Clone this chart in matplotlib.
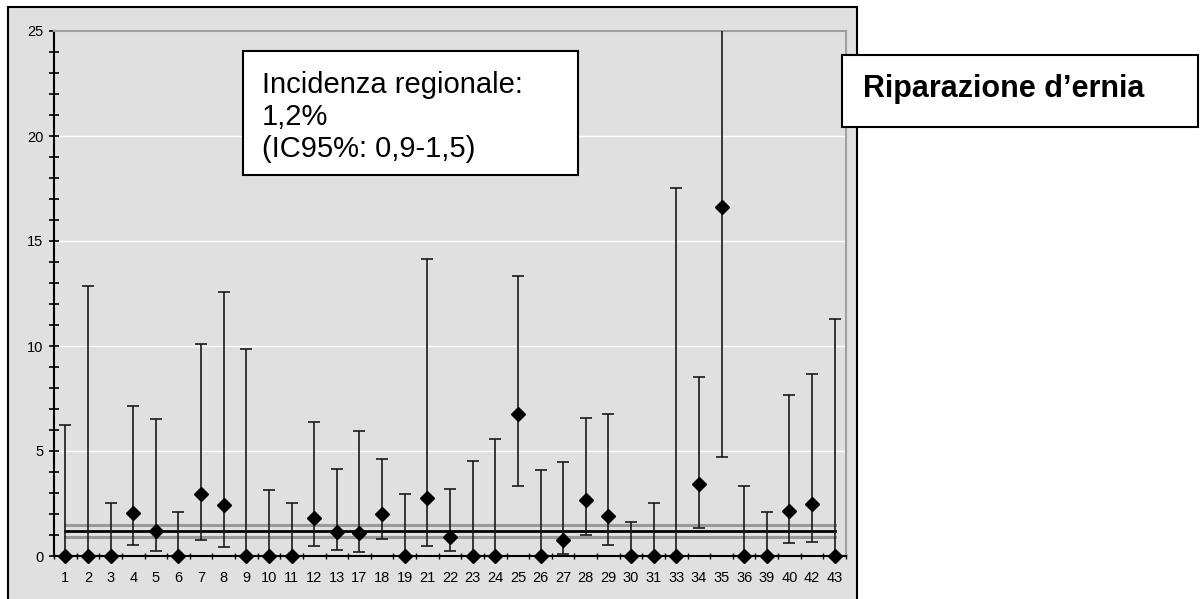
import matplotlib
matplotlib.use("Agg")
import matplotlib.pyplot as plt
from matplotlib.patches import Rectangle
from matplotlib.ticker import MultipleLocator, FixedLocator

plt.rcParams['font.family'] = ['Liberation Sans', 'DejaVu Sans']

# ---- data ----
categories = ["1", "2", "3", "4", "5", "6", "7", "8", "9", "10", "11", "12", "13",
              "17", "18", "19", "21", "22", "23", "24", "25", "26", "27", "28", "29",
              "30", "31", "33", "34", "35", "36", "39", "40", "42", "43"]
estimate = [0, 0, 0, 2.05, 1.19, 0, 2.95, 2.41, 0, 0, 0, 1.81, 1.13,
            1.08, 1.98, 0, 2.78, 0.90, 0, 0, 6.76, 0, 0.78, 2.65, 1.92,
            0, 0, 0, 3.43, 16.62, 0, 0, 2.16, 2.48, 0]
ci_low = [0, 0, 0, 0.54, 0.24, 0, 0.76, 0.43, 0, 0, 0, 0.49, 0.30,
          0.17, 0.83, 0, 0.49, 0.24, 0, 0, 3.32, 0, 0.11, 1.02, 0.54,
          0, 0, 0, 1.33, 4.70, 0, 0, 0.60, 0.65, 0]
ci_high = [6.24, 12.86, 2.54, 7.14, 6.54, 2.11, 10.10, 12.57, 9.86, 3.16, 2.54, 6.40, 4.16,
           5.97, 4.63, 2.95, 14.14, 3.21, 4.54, 5.56, 13.35, 4.11, 4.48, 6.57, 6.76,
           1.62, 2.54, 17.54, 8.52, 30.0, 3.32, 2.11, 7.67, 8.65, 11.30]
regional_rate = 1.2
regional_low = 0.9
regional_high = 1.5
title_text = "Riparazione d\u2019ernia"
box_lines = ["Incidenza regionale:", "1,2%", "(IC95%: 0,9-1,5)"]

W, H = 1200, 599
fig = plt.figure(figsize=(12, 5.99), dpi=100)

def fx(px):
    return px / W

def fy(py):
    return 1 - py / H

# outer chart area (bottom edge lies just outside the image)
fig.add_artist(Rectangle((fx(8), fy(603)), fx(857) - fx(8), fy(7) - fy(603),
                         transform=fig.transFigure, facecolor='#e0e0e0',
                         edgecolor='black', linewidth=1.5, zorder=-5))

ax = fig.add_axes([fx(54), fy(556), fx(846) - fx(54), fy(31) - fy(556)])
ax.set_facecolor('#e0e0e0')

n = len(categories)
x = list(range(n))

ax.set_xlim(-0.5, n - 0.5)
ax.set_ylim(0, 25)

# grid
for gv in [5, 10, 15, 20]:
    ax.axhline(gv, color='white', linewidth=1.0, zorder=1)

# regional reference lines
ax.plot([x[0], x[-1]], [regional_high] * 2, color='#999999', linewidth=2.2, zorder=2)
ax.plot([x[0], x[-1]], [regional_low] * 2, color='#999999', linewidth=2.2, zorder=2)
ax.plot([x[0], x[-1]], [regional_rate] * 2, color='black', linewidth=2.0, zorder=2)

# error bars
yerr = [[e - l for e, l in zip(estimate, ci_low)],
        [h - e for e, h in zip(estimate, ci_high)]]
ax.errorbar(x, estimate, yerr=yerr, fmt='none', ecolor='#1a1a1a',
            elinewidth=1.2, capsize=4, capthick=1.2, zorder=3)
ax.plot(x, estimate, linestyle='none', marker='D', markersize=7,
        color='black', zorder=4, clip_on=False)

# spines
for s in ['left', 'bottom']:
    ax.spines[s].set_color('black')
    ax.spines[s].set_linewidth(1.5)
for s in ['top', 'right']:
    ax.spines[s].set_color('#a0a0a0')
    ax.spines[s].set_linewidth(1.5)

# ticks
ax.yaxis.set_major_locator(MultipleLocator(5))
ax.yaxis.set_minor_locator(MultipleLocator(1))
ax.tick_params(axis='y', which='both', direction='inout', length=7, width=1.2,
               color='black', labelsize=10.5, pad=4)
ax.set_xticks(x)
ax.set_xticklabels(categories)
ax.xaxis.set_minor_locator(FixedLocator([i - 0.5 for i in range(n + 1)]))
ax.tick_params(axis='x', which='major', length=0, labelsize=10.5, pad=11)
ax.tick_params(axis='x', which='minor', direction='inout', length=4.5, width=1.0,
               color='black')

# annotation box
fig.add_artist(Rectangle((fx(243), fy(175)), fx(578) - fx(243), fy(51) - fy(175),
                         transform=fig.transFigure, facecolor='white',
                         edgecolor='black', linewidth=1.5, zorder=10))
baselines = [93, 125, 157]
for line, b in zip(box_lines, baselines):
    fig.text(fx(262), fy(b), line, fontsize=21, ha='left', va='baseline',
             color='black', zorder=11)

# title box
fig.add_artist(Rectangle((fx(842), fy(127)), fx(1198) - fx(842), fy(55) - fy(127),
                         transform=fig.transFigure, facecolor='white',
                         edgecolor='black', linewidth=1.5, zorder=10))
fig.text(fx(863), fy(97), title_text, fontsize=22, fontweight='bold',
         ha='left', va='baseline', color='black', zorder=11)

fig.savefig('out.png', dpi=100)
